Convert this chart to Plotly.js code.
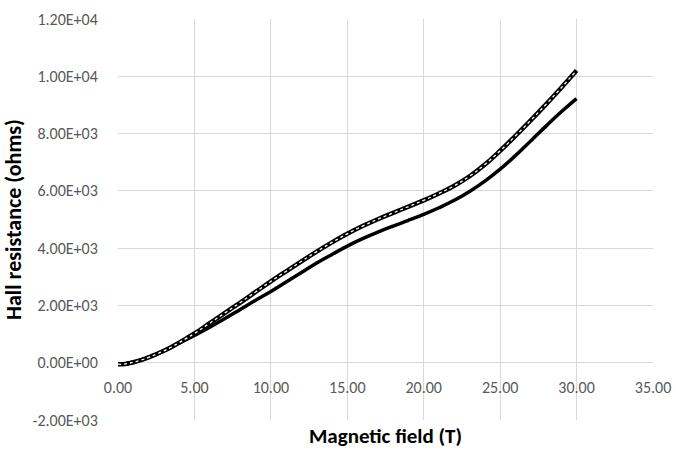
<!DOCTYPE html>
<html>
<head>
<meta charset="utf-8">
<script src="https://cdn.plot.ly/plotly-3.0.1.min.js"></script>
<style>html,body{margin:0;padding:0;background:#fff;}#chart{width:676px;height:450px;}</style>
</head>
<body>
<div id="chart"></div>
<script>
const fieldT = [0,0.25,0.5,0.75,1,1.5,2,2.5,3,3.5,4,4.5,5,6,7,8,9,10,11,12,13,14,15,16,17,18,19,20,21,22,23,24,25,26,27,28,29,30];
const hallLower = [-50,-55,-40,-15,15,90,185,295,415,545,680,815,950,1240,1540,1860,2180,2490,2820,3150,3480,3780,4070,4330,4560,4770,4970,5180,5410,5670,5980,6340,6760,7230,7740,8260,8760,9220];
const hallUpper = [-50,-55,-40,-15,15,90,185,295,415,550,700,860,1020,1380,1740,2100,2470,2840,3190,3540,3880,4200,4500,4770,5010,5230,5450,5670,5910,6180,6510,6920,7400,7920,8460,9020,9600,10200];
const yTickVals = [-2000,0,2000,4000,6000,8000,10000,12000];
const yTickText = ["-2.00E+03","0.00E+00","2.00E+03","4.00E+03","6.00E+03","8.00E+03","1.00E+04","1.20E+04"];
const xTickVals = [0,5,10,15,20,25,30,35];

const FONT = "Carlito, Lato, 'Open Sans', sans-serif";
const traces = [
  {x: fieldT, y: hallLower, mode: 'lines', line: {color: '#000', width: 3.5, shape: 'spline', smoothing: 1.2}, hoverinfo: 'skip'},
  {x: fieldT, y: hallUpper, mode: 'lines', line: {color: '#000', width: 4.5, shape: 'spline', smoothing: 1.2}, hoverinfo: 'skip'},
  {x: fieldT, y: hallUpper, mode: 'lines', line: {color: '#fff', width: 1.3, dash: 'dot', shape: 'spline', smoothing: 1.2}, hoverinfo: 'skip'},
  {x: [0, 35], y: [null, null], xaxis: 'x2', mode: 'lines', hoverinfo: 'skip'}
];
const layout = {
  width: 676, height: 450,
  margin: {l: 118, r: 23, t: 19, b: 30},
  paper_bgcolor: '#fff', plot_bgcolor: '#fff',
  showlegend: false,
  font: {family: FONT, color: '#595959', size: 16},
  xaxis: {
    range: [0, 35], tickvals: xTickVals, showticklabels: false,
    showgrid: true, gridcolor: '#d9d9d9', gridwidth: 1,
    zeroline: false, showline: false, ticks: '',
    title: {text: '<b>Magnetic field (T)</b>', font: {family: FONT, size: 21, color: '#000'}, standoff: 8}
  },
  xaxis2: {
    overlaying: 'x', matches: 'x', anchor: 'free', position: 1/7,
    range: [0, 35], tickvals: xTickVals, tickformat: '.2f',
    showgrid: false, zeroline: false, showline: false,
    ticks: 'outside', ticklen: 10, tickcolor: 'rgba(0,0,0,0)',
    tickfont: {family: FONT, size: 16, color: '#595959'}
  },
  yaxis: {
    range: [-2000, 12000], tickvals: yTickVals, ticktext: yTickText,
    showgrid: true, gridcolor: '#d9d9d9', gridwidth: 1,
    zeroline: false, showline: false,
    ticks: 'outside', ticklen: 16, tickcolor: 'rgba(0,0,0,0)',
    tickfont: {family: FONT, size: 16, color: '#595959'},
    title: {text: '<b>Hall resistance (ohms)</b>', font: {family: FONT, size: 22, color: '#000'}, standoff: 10}
  }
};
Plotly.newPlot('chart', traces, layout, {staticPlot: true, displayModeBar: false});
</script>
</body>
</html>
